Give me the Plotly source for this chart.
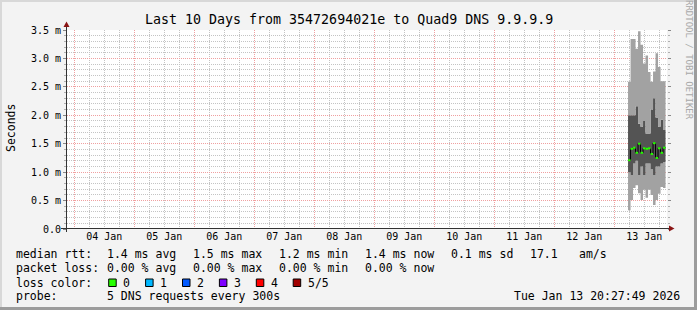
import plotly.graph_objects as go

# ---------------- data ----------------
step_start = ["2026-01-13 05:30", "2026-01-13 06:30", "2026-01-13 07:30", "2026-01-13 08:30",
              "2026-01-13 09:30", "2026-01-13 10:30", "2026-01-13 11:30", "2026-01-13 12:30",
              "2026-01-13 13:30", "2026-01-13 14:30", "2026-01-13 15:30", "2026-01-13 16:30",
              "2026-01-13 17:30", "2026-01-13 18:30", "2026-01-13 19:30"]
step_end = "2026-01-13 20:30"

ping_min = [0.33, 0.51, 0.72, 0.77, 0.63, 0.51, 0.69, 0.55, 0.69, 0.60, 0.42, 0.51, 0.62, 0.74, 0.72]
ping_lo = [1.00, 0.95, 1.15, 1.20, 0.95, 1.10, 0.95, 1.15, 1.15, 1.05, 0.95, 1.10, 1.10, 1.15, 1.18]
median = [1.21, 1.41, 1.43, 1.34, 1.50, 1.34, 1.42, 1.41, 1.42, 1.32, 1.51, 1.25, 1.42, 1.34, 1.43]
ping_hi = [2.00, 2.00, 2.00, 2.16, 1.85, 1.80, 1.90, 1.68, 1.68, 2.10, 2.30, 1.96, 1.80, 1.92, 1.74]
ping_max = [2.59, 3.34, 3.34, 3.17, 3.48, 3.24, 2.91, 3.05, 2.76, 2.59, 2.77, 3.09, 2.85, 2.60, 2.60]

y_tick_vals = [0.0, 0.5, 1.0, 1.5, 2.0, 2.5, 3.0, 3.5]
y_tick_text = ["0.0", "0.5 m", "1.0 m", "1.5 m", "2.0 m", "2.5 m", "3.0 m", "3.5 m"]
y_minor_vals = [round(k * 0.1, 1) for k in range(36) if k % 5 != 0]
x_range = ["2026-01-03 21:05", "2026-01-13 21:05"]

title_text = "Last 10 Days from 35472694021e to Quad9 DNS 9.9.9.9"
rtt_stats = ["1.4 ms avg", "1.5 ms max", "1.2 ms min", "1.4 ms now"]
rtt_extra = ["0.1 ms sd", "17.1", "am/s"]
loss_stats = ["0.00 % avg", "0.00 % max", "0.00 % min", "0.00 % now"]
loss_labels = ["0", "1", "2", "3", "4", "5/5"]
loss_colors = ["#26ff00", "#00b8ff", "#0059ff", "#7e00ff", "#ff0000", "#a00000"]
probe_text = "5 DNS requests every 300s"
date_text = "Tue Jan 13 20:27:49 2026"
watermark = "RRDTOOL / TOBI OETIKER"

# ---------------- layout geometry ----------------
W, H = 697, 310
L, R, T, B = 67, 30, 30, 81
PW, PH = W - L - R, H - T - B
MONO = "DejaVu Sans Mono"


def fx(px):
    return (px - L) / PW


def fy(py):
    return (H - B - py) / PH


x_edges = step_start + [step_end]


def ext(v):
    return v + [v[-1]]


LIGHT = "#a2a2a2"
DARK = "#545454"

fig = go.Figure()
fig.add_trace(go.Scatter(x=x_edges, y=ext(ping_min), mode="lines", line=dict(width=0, shape="hv"),
                         hoverinfo="skip"))
fig.add_trace(go.Scatter(x=x_edges, y=ext(ping_lo), mode="lines", line=dict(width=0, shape="hv"),
                         fill="tonexty", fillcolor=LIGHT, hoverinfo="skip"))
fig.add_trace(go.Scatter(x=x_edges, y=ext(ping_hi), mode="lines", line=dict(width=0, shape="hv"),
                         fill="tonexty", fillcolor=DARK, hoverinfo="skip"))
fig.add_trace(go.Scatter(x=x_edges, y=ext(ping_max), mode="lines", line=dict(width=0, shape="hv"),
                         fill="tonexty", fillcolor=LIGHT, hoverinfo="skip"))
# median connector
fig.add_trace(go.Scatter(x=x_edges, y=ext(median), mode="lines",
                         line=dict(width=1, shape="hv", color="#000000"), hoverinfo="skip"))
# median coloured by loss (all 0 loss -> green)
gx, gy = [], []
for i, m in enumerate(median):
    gx += [x_edges[i], x_edges[i + 1], None]
    gy += [m, m, None]
fig.add_trace(go.Scatter(x=gx, y=gy, mode="lines", line=dict(width=2, color=loss_colors[0]),
                         hoverinfo="skip"))

GRID = "#c4c4c4"
MGRID = "#f0a0a0"

fig.update_xaxes(type="date", range=x_range, dtick=86400000, tick0="2026-01-04",
                 ticklabelmode="period", tickformat="%d %b", showgrid=True, gridcolor=MGRID,
                 griddash="1px,1px", gridwidth=1, ticks="", showline=False, zeroline=False,
                 tickfont=dict(family=MONO, size=10, color="#000000"),
                 minor=dict(dtick=21600000, tick0="2026-01-04", showgrid=True, gridcolor=GRID,
                            griddash="1px,1px", gridwidth=1))
fig.update_yaxes(range=[0, 3.5], tickmode="array", tickvals=y_tick_vals, ticktext=y_tick_text,
                 showgrid=True, gridcolor=MGRID, griddash="1px,1px", gridwidth=1, zeroline=False,
                 showline=False, ticks="outside", ticklen=3, tickcolor="#888888", mirror="ticks",
                 tickfont=dict(family=MONO, size=10, color="#000000"),
                 minor=dict(tickmode="array", tickvals=y_minor_vals, showgrid=True, gridcolor=GRID,
                            griddash="1px,1px", gridwidth=1, ticks="outside", ticklen=2,
                            tickcolor="#b0b0b0"))

shapes = []
# frame shading
shapes.append(dict(type="rect", xref="paper", yref="paper", x0=fx(0), x1=fx(W), y0=fy(0), y1=fy(2),
                   fillcolor="#d8d8d8", line=dict(width=0)))
shapes.append(dict(type="rect", xref="paper", yref="paper", x0=fx(0), x1=fx(2), y0=fy(0), y1=fy(H),
                   fillcolor="#d8d8d8", line=dict(width=0)))
shapes.append(dict(type="rect", xref="paper", yref="paper", x0=fx(0), x1=fx(W), y0=fy(H - 3), y1=fy(H),
                   fillcolor="#9c9c9c", line=dict(width=0)))
shapes.append(dict(type="rect", xref="paper", yref="paper", x0=fx(W - 3), x1=fx(W), y0=fy(0), y1=fy(H),
                   fillcolor="#9c9c9c", line=dict(width=0)))
# axis lines
AX = "#333333"
ARROW = "#8a1414"
shapes.append(dict(type="line", xref="paper", yref="paper", x0=fx(61), x1=fx(670), y0=fy(228.5),
                   y1=fy(228.5), line=dict(color=AX, width=1)))
shapes.append(dict(type="line", xref="paper", yref="paper", x0=fx(66.5), x1=fx(66.5), y0=fy(232),
                   y1=fy(25), line=dict(color=AX, width=1)))
shapes.append(dict(type="path", xref="paper", yref="paper",
                   path="M %f %f L %f %f L %f %f Z" % (fx(669), fy(225.5), fx(674.5), fy(228.5),
                                                      fx(669), fy(231.5)),
                   fillcolor=ARROW, line=dict(width=0)))
shapes.append(dict(type="path", xref="paper", yref="paper",
                   path="M %f %f L %f %f L %f %f Z" % (fx(63.5), fy(27), fx(66.5), fy(21.5),
                                                      fx(69.5), fy(27)),
                   fillcolor=ARROW, line=dict(width=0)))

ann = []


def text(s, px, py, size=11.5, anchor="left", color="#000000", angle=0):
    ann.append(dict(text=s, x=fx(px), y=fy(py), xref="paper", yref="paper", showarrow=False,
                    xanchor=anchor, yanchor="middle", textangle=angle, borderpad=0, borderwidth=0,
                    font=dict(family=MONO, size=size, color=color)))


text(title_text, 348.5, 19, size=13.3, anchor="center")
text("Seconds", 11, 128, size=11.5, anchor="center", angle=-90)
text(watermark, 689, 60, size=9, anchor="center", color="#a8a8a8", angle=90)

col_x = [107.3, 193.3, 279.3, 365.3]
ROW1, ROW2, ROW3, ROW4 = 254.3, 268.3, 282.7, 296.3
text("median rtt:", 16, ROW1)
for s, cx in zip(rtt_stats, col_x):
    text(s, cx, ROW1)
for s, cx in zip(rtt_extra, [451, 530, 579.3]):
    text(s, cx, ROW1)
text("packet loss:", 16, ROW2)
for s, cx in zip(loss_stats, col_x):
    text(s, cx, ROW2)
text("loss color:", 16, ROW3)
for i, (lab, col) in enumerate(zip(loss_labels, loss_colors)):
    sx = 108.7 + i * 36.9
    shapes.append(dict(type="rect", xref="paper", yref="paper", x0=fx(sx), x1=fx(sx + 7.5),
                       y0=fy(286.5), y1=fy(279), fillcolor=col, line=dict(color="#000000", width=1)))
    text(lab, sx + 14.6, ROW3)
text("probe:", 16, ROW4)
text(probe_text, 107.3, ROW4)
text(date_text, 680, ROW4, anchor="right")

fig.update_layout(width=W, height=H, autosize=False,
                  margin=dict(l=L, r=R, t=T, b=B, pad=0),
                  paper_bgcolor="#f3f3f3", plot_bgcolor="#ffffff",
                  showlegend=False, shapes=shapes, annotations=ann,
                  font=dict(family=MONO, color="#000000"))

fig.write_html("out.html", config={"displayModeBar": False})
